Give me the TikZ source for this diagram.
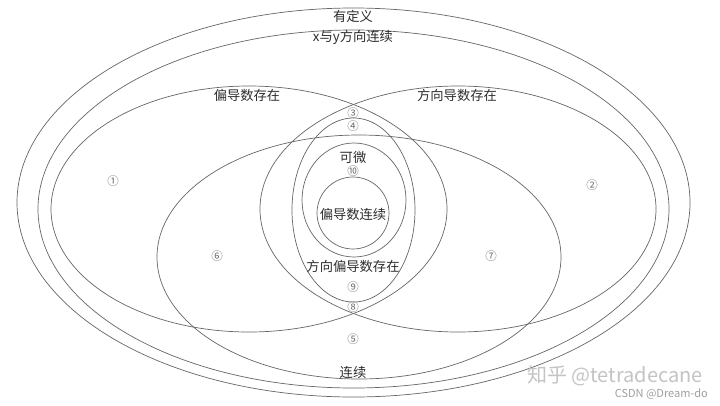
\documentclass[tikz,border=0pt]{standalone}
\usepackage{fontspec}
\newfontfamily\cjk{Noto Sans CJK SC}
\definecolor{linegray}{HTML}{666666}
\definecolor{textgray}{HTML}{2E2E2E}
\definecolor{numgray}{HTML}{6E6E6E}
\definecolor{wmgray}{HTML}{C4C4C4}
\definecolor{csdngray}{HTML}{A0A0A0}
\begin{document}
\begin{tikzpicture}[x=1pt,y=-1pt,
  set/.style={draw=linegray, line width=0.7pt},
  lab/.style={text=textgray, font=\cjk\fontsize{13.3}{14}\selectfont, inner sep=0pt},
  num/.style={text=numgray, font=\cjk\fontsize{11.5}{12}\selectfont, inner sep=0pt}]
\useasboundingbox[fill=white] (0,0) rectangle (720,405);
% sets
\draw[set] (353.5,202.5) ellipse [x radius=336.5pt, y radius=194.5pt]; % defined
\draw[set] (353.5,209) ellipse [x radius=315.5pt, y radius=179pt];     % x,y continuous
\draw[set] (249,209) ellipse [x radius=198pt, y radius=123pt];         % partial derivatives
\draw[set] (458,209) ellipse [x radius=198pt, y radius=123pt];         % directional derivatives
\draw[set] (359,257) ellipse [x radius=202pt, y radius=122pt];         % continuous
\draw[set] (353.5,210) ellipse [x radius=61.5pt, y radius=92pt];       % directional partials
\draw[set] (354,200) ellipse [x radius=52pt, y radius=57pt];           % differentiable
\draw[set] (353,213) circle [radius=36pt];                             % continuous partials
% labels
\node[lab] (ydy) at (353,16) {有定义};
\node[lab] (xylx) at (353,37) {x与y方向连续};
\node[lab] (pdcz) at (247,95) {偏导数存在};
\node[lab] (fxdcz) at (457,95) {方向导数存在};
\node[lab] (kw) at (353,157) {可微};
\node[lab] (pdlx) at (353,214) {偏导数连续};
\node[lab] (fxpd) at (353,266) {方向偏导数存在};
\node[lab] (lx) at (353,372) {连续};
% region numbers
\node[num] (n1) at (113,181) {①};
\node[num] (n2) at (592,185) {②};
\node[num] (n3) at (353,113) {③};
\node[num] (n4) at (353,126) {④};
\node[num] (n5) at (353,339) {⑤};
\node[num] (n6) at (217,256) {⑥};
\node[num] (n7) at (491,256) {⑦};
\node[num] (n8) at (353,307) {⑧};
\node[num] (n9) at (353,287) {⑨};
\node[num] (n10) at (353,171) {⑩};
% watermark
\node[text=wmgray, font=\cjk\fontsize{20}{22}\selectfont, inner sep=0pt, anchor=east] (wm) at (703,376) {知乎 @tetradecane};
\node[text=csdngray, font=\cjk\fontsize{11}{12}\selectfont, inner sep=0pt, anchor=east] (csdn) at (708,394.5) {CSDN @Dream-do};
\end{tikzpicture}
\end{document}
